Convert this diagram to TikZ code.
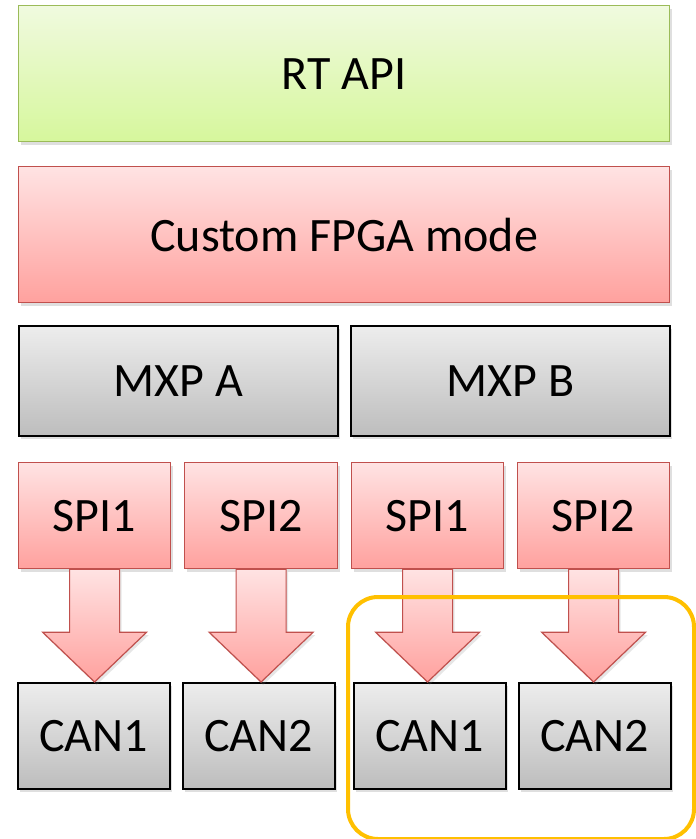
\documentclass[tikz,border=0pt]{standalone}
\usepackage{fontspec}
\setmainfont{Carlito}
\usetikzlibrary{shadows,calc}
\definecolor{grnTop}{HTML}{F0FADF}
\definecolor{grnBot}{HTML}{D6F79C}
\definecolor{grnLine}{HTML}{9BBB59}
\definecolor{redTop}{HTML}{FFE3E3}
\definecolor{redBot}{HTML}{FFA19E}
\definecolor{redLine}{HTML}{C0504D}
\definecolor{gryTop}{HTML}{EDEDED}
\definecolor{gryBot}{HTML}{BDBDBD}
\definecolor{orng}{HTML}{FFC000}
\tikzset{
  blk/.style={anchor=north west, inner sep=0pt, line width=1.2pt,
    font=\fontsize{48}{52}\selectfont,
    drop shadow={opacity=0.25, shadow xshift=2pt, shadow yshift=-3pt}},
  greenbox/.style={blk, draw=grnLine, top color=grnTop, bottom color=grnBot},
  redbox/.style={blk, draw=redLine, top color=redTop, bottom color=redBot},
  graybox/.style={blk, draw=black, top color=gryTop, bottom color=gryBot, line width=1.5pt},
  blockarrow/.style={draw=redLine, line width=1.2pt, top color=redTop, bottom color=redBot,
    drop shadow={opacity=0.2, shadow xshift=2pt, shadow yshift=-3pt}},
  groupbox/.style={draw=orng, line width=4pt, rounded corners=30pt}
}
\begin{document}
\begin{tikzpicture}[x=1pt,y=-1pt]
\useasboundingbox (0,0) rectangle (696,839);
\node[greenbox, minimum width=651pt, minimum height=136pt] (rt) at (18,5) {RT API};
\node[redbox, minimum width=651pt, minimum height=136pt] (fpga) at (18,166) {Custom FPGA mode};
\node[graybox, minimum width=319pt, minimum height=110pt] (mxpa) at (18,325) {MXP A};
\node[graybox, minimum width=319pt, minimum height=110pt] (mxpb) at (350,325) {MXP B};
\node[redbox, minimum width=152pt, minimum height=106pt] (s1a) at (18,462) {SPI1};
\node[redbox, minimum width=153pt, minimum height=106pt] (s2a) at (184,462) {SPI2};
\node[redbox, minimum width=152pt, minimum height=106pt] (s1b) at (351,462) {SPI1};
\node[redbox, minimum width=152pt, minimum height=106pt] (s2b) at (517,462) {SPI2};
\node[graybox, minimum width=152pt, minimum height=106pt] (c1a) at (17,682) {CAN1};
\node[graybox, minimum width=152pt, minimum height=106pt] (c2a) at (182,682) {CAN2};
\node[graybox, minimum width=152pt, minimum height=106pt] (c1b) at (353,682) {CAN1};
\node[graybox, minimum width=152pt, minimum height=106pt] (c2b) at (518,682) {CAN2};
\foreach \s/\c in {s1a/c1a, s2a/c2a, s1b/c1b, s2b/c2b}{
  \path[blockarrow] ($(\s.south)+(-25,0)$) -- ($(\s.south)+(25,0)$)
    -- ($(\s.south)+(25,63)$) -- ($(\s.south)+(52,63)$)
    -- (\s.south |- \c.north) -- ($(\s.south)+(-52,63)$)
    -- ($(\s.south)+(-25,63)$) -- cycle;
}
\node[groupbox, anchor=north west, minimum width=346pt, minimum height=242pt, inner sep=0pt] (grp) at (346,595) {};
\end{tikzpicture}
\end{document}
